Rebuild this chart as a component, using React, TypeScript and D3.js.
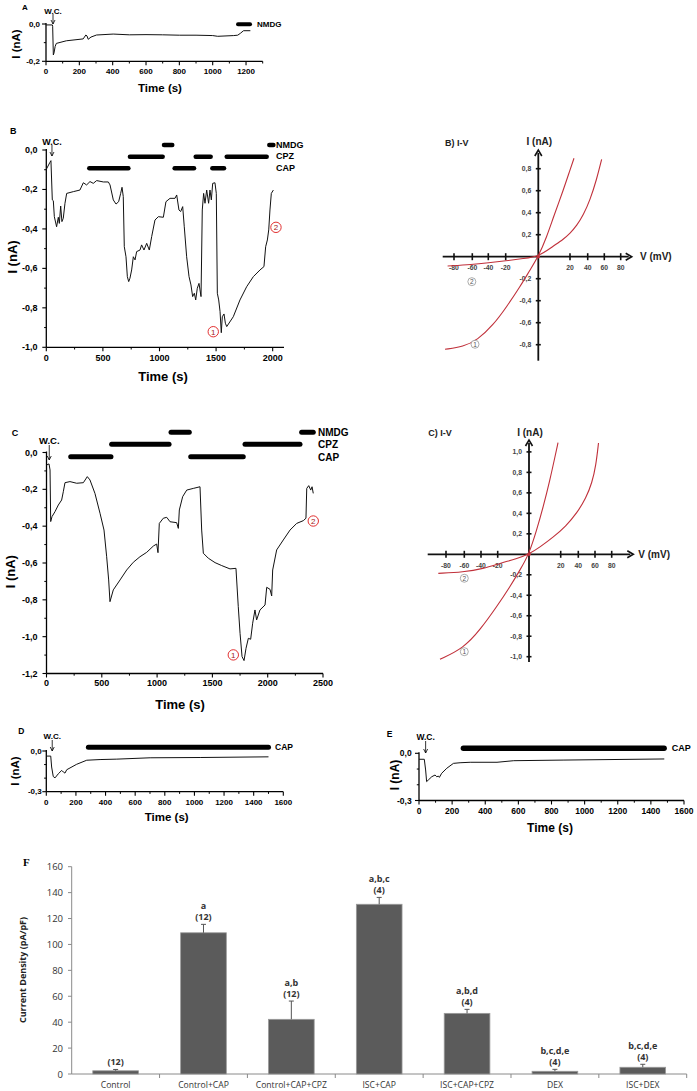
import React from 'react';
import * as d3 from 'd3';

type Pt = [number, number];

// ---------------- DATA ----------------
const traceA: Pt[] = [[0,-0.005],[38,-0.005],[40,-0.012],[44,-0.166],[48,-0.155],[55,-0.12],[62,-0.104],[122,-0.09],[223,-0.08],[239,-0.059],[246,-0.064],[253,-0.082],[270,-0.07],[303,-0.059],[403,-0.054],[500,-0.058],[600,-0.057],[700,-0.058],[800,-0.06],[900,-0.06],[1000,-0.062],[1030,-0.066],[1126,-0.062],[1150,-0.06],[1166,-0.05],[1185,-0.036],[1226,-0.036]];
const barsA = [{ drug: 'NMDG', start: 1152, end: 1224 }];

const traceB: Pt[] = [[0,-0.098],[32,-0.0625],[41,-0.054],[53,-0.253],[62,-0.257],[71,-0.338],[91,-0.389],[106,-0.341],[115,-0.372],[127,-0.284],[138,-0.363],[150,-0.346],[165,-0.27],[180,-0.22],[239,-0.211],[297,-0.203],[327,-0.166],[356,-0.177],[386,-0.16],[415,-0.169],[445,-0.155],[504,-0.162],[548,-0.162],[563,-0.177],[592,-0.253],[616,-0.274],[639,-0.262],[657,-0.22],[669,-0.189],[680,-0.236],[689,-0.49],[704,-0.541],[716,-0.642],[728,-0.667],[739,-0.65],[754,-0.608],[769,-0.541],[784,-0.557],[798,-0.515],[828,-0.507],[842,-0.481],[863,-0.507],[887,-0.473],[910,-0.507],[931,-0.439],[960,-0.355],[990,-0.338],[1034,-0.341],[1057,-0.262],[1093,-0.245],[1137,-0.245],[1152,-0.228],[1172,-0.304],[1187,-0.312],[1205,-0.287],[1219,-0.389],[1240,-0.541],[1261,-0.642],[1278,-0.684],[1293,-0.743],[1308,-0.726],[1320,-0.76],[1334,-0.701],[1349,-0.676],[1358,-0.709],[1367,-0.743],[1378,-0.304],[1390,-0.22],[1402,-0.27],[1417,-0.203],[1434,-0.27],[1446,-0.203],[1458,-0.253],[1470,-0.169],[1490,-0.166],[1502,-0.22],[1511,-0.726],[1523,-0.76],[1535,-0.819],[1546,-0.926],[1555,-0.845],[1570,-0.831],[1582,-0.878],[1594,-0.895],[1652,-0.845],[1711,-0.76],[1770,-0.693],[1829,-0.642],[1888,-0.608],[1923,-0.591],[1938,-0.49],[1953,-0.456],[1965,-0.405],[1976,-0.304],[1988,-0.22],[2006,-0.203]];
const barsB = [
  { drug: 'CAP', start: 380, end: 725 }, { drug: 'CPZ', start: 739, end: 1028 }, { drug: 'NMDG', start: 1040, end: 1113 },
  { drug: 'CAP', start: 1134, end: 1305 }, { drug: 'CPZ', start: 1320, end: 1452 }, { drug: 'CAP', start: 1467, end: 1570 },
  { drug: 'CPZ', start: 1594, end: 1947 }, { drug: 'NMDG', start: 1970, end: 2006 },
];
const marksB = [{ label: '1', t: 1475, i: -0.921 }, { label: '2', t: 2029, i: -0.392 }];

const traceC: Pt[] = [[0,-0.068],[23,-0.062],[32,-0.095],[38,-0.375],[50,-0.348],[77,-0.321],[107,-0.285],[137,-0.258],[152,-0.213],[167,-0.164],[212,-0.158],[273,-0.167],[333,-0.164],[369,-0.131],[393,-0.149],[438,-0.222],[484,-0.33],[520,-0.421],[544,-0.566],[562,-0.692],[574,-0.81],[604,-0.746],[665,-0.692],[725,-0.638],[785,-0.596],[845,-0.566],[906,-0.542],[966,-0.508],[996,-0.497],[1008,-0.544],[1020,-0.385],[1056,-0.357],[1087,-0.352],[1117,-0.376],[1177,-0.381],[1192,-0.412],[1201,-0.312],[1231,-0.24],[1268,-0.204],[1327,-0.195],[1388,-0.186],[1403,-0.421],[1418,-0.547],[1463,-0.574],[1524,-0.598],[1584,-0.614],[1659,-0.632],[1713,-0.629],[1734,-0.837],[1750,-0.982],[1768,-1.108],[1786,-1.13],[1804,-1.063],[1825,-1.009],[1846,-1.014],[1864,-0.927],[1885,-0.855],[1900,-0.909],[1930,-0.855],[1976,-0.828],[1991,-0.732],[2021,-0.743],[2036,-0.779],[2045,-0.638],[2081,-0.529],[2141,-0.475],[2202,-0.421],[2262,-0.385],[2322,-0.37],[2346,-0.357],[2353,-0.195],[2371,-0.18],[2389,-0.204],[2401,-0.186],[2412,-0.222]];
const barsC = [
  { drug: 'CAP', start: 219, end: 583 }, { drug: 'CPZ', start: 589, end: 1108 }, { drug: 'NMDG', start: 1126, end: 1291 },
  { drug: 'CAP', start: 1304, end: 1779 }, { drug: 'CPZ', start: 1795, end: 2292 }, { drug: 'NMDG', start: 2307, end: 2412 },
];
const marksC = [{ label: '1', t: 1689, i: -1.099 }, { label: '2', t: 2412, i: -0.372 }];

const traceD: Pt[] = [[0,-0.0375],[30,-0.0375],[36,-0.118],[47,-0.188],[59,-0.198],[81,-0.168],[104,-0.143],[115,-0.155],[126,-0.163],[138,-0.138],[205,-0.098],[273,-0.068],[363,-0.063],[476,-0.06],[701,-0.05],[1039,-0.048],[1500,-0.043]];
const barsD = [{ drug: 'CAP', start: 284, end: 1500 }];

const traceE: Pt[] = [[0,-0.038],[32,-0.038],[40,-0.106],[46,-0.18],[56,-0.17],[77,-0.149],[97,-0.138],[107,-0.149],[117,-0.145],[123,-0.153],[137,-0.127],[168,-0.095],[208,-0.064],[248,-0.06],[309,-0.057],[471,-0.057],[572,-0.047],[875,-0.043],[1481,-0.036]];
const barsE = [{ drug: 'CAP', start: 268, end: 1480 }];

// I-V curves (V in mV, I in nA)
const ivB1: Pt[] = [[-89.8,-0.842],[-69.8,-0.818],[-53.5,-0.757],[-34.3,-0.621],[-19.4,-0.455],[-11.2,-0.273],[-5.1,-0.121],[0,0],[5.3,0.18],[9.5,0.358],[15.8,0.606],[20,0.788],[24.5,0.895]];
const ivB2: Pt[] = [[-87,-0.085],[-60,-0.072],[-40,-0.056],[-20,-0.038],[-9,-0.016],[0,0],[9.46,0.097],[15.8,0.158],[20,0.212],[27.6,0.282],[35.1,0.379],[42.8,0.515],[50.8,0.703],[56.8,0.885]];
const ivC1: Pt[] = [[-86.6,-1.025],[-61,-0.918],[-41.2,-0.739],[-21.2,-0.512],[-12.1,-0.316],[-5.75,-0.153],[0,0],[4.86,0.237],[9,0.465],[13.2,0.726],[16.4,0.953],[18.3,1.09]];
const ivC2: Pt[] = [[-88.4,-0.186],[-61.1,-0.173],[-37.2,-0.141],[-18.5,-0.088],[-7.9,-0.043],[0,0],[6.94,0.071],[15.1,0.164],[26,0.276],[38.5,0.403],[49.2,0.55],[56.4,0.696],[61.2,0.872],[64.2,1.087]];
const ivXTicks = [-80, -60, -40, -20, 0, 20, 40, 60, 80];
const ivBYTicks = [-0.8, -0.6, -0.4, -0.2, 0.2, 0.4, 0.6, 0.8];
const ivCYTicks = [-1.0, -0.8, -0.6, -0.4, -0.2, 0.2, 0.4, 0.6, 0.8, 1.0];
const ivBMarks = [{ label: '2', v: -60.5, i: -0.227 }, { label: '1', v: -56.6, i: -0.796 }];
const ivCMarks = [{ label: '2', v: -60, i: -0.234 }, { label: '1', v: -60, i: -0.951 }];

// Bar chart F
const categories = ['Control', 'Control+CAP', 'Control+CAP+CPZ', 'ISC+CAP', 'ISC+CAP+CPZ', 'DEX', 'ISC+DEX'];
const means = [2.5, 109, 42.2, 131, 46.8, 2.1, 5.2];
const errors = [1.0, 6.5, 14.1, 5.3, 3.1, 1.5, 2.3];
const sigLetters = ['', 'a', 'a,b', 'a,b,c', 'a,b,d', 'b,c,d,e', 'b,c,d,e'];
const nLabels = ['(12)', '(12)', '(12)', '(4)', '(4)', '(4)', '(4)'];
const fTicks = [0, 20, 40, 60, 80, 100, 120, 140, 160];

// ---------------- HELPERS ----------------
const FONT = "'Liberation Sans', Arial, sans-serif";
const fmt = (v: number) => (Math.abs(v) < 1e-9 ? '0,0' : v.toFixed(1).replace('.', ','));
const rng = (a: number, b: number, s: number) => d3.range(a, b + s / 2, s);

interface Bar { drug: string; start: number; end: number; }
interface TraceCfg {
  letter: string; letterPos: Pt; letterSize: number;
  xRange: Pt; xDomain: Pt; yRange: Pt; yDomain: Pt;
  xTicks: number[]; xMinor: number[]; yTicks: number[]; yMinor: number[];
  data: Pt[]; bars: Bar[]; rowY: Record<string, number>; barW: number;
  drugLabels: { text: string; y: number }[]; drugX: number; drugSize: number;
  wc: { t: number; textY: number; a0: number; a1: number; size: number };
  tickSize: number; xTickY: number; yTickX: number;
  xLabel: Pt; yLabel: Pt; labelSize: number;
  marks?: { label: string; t: number; i: number }[];
  lineW: number;
}

function TracePanel({ c }: { c: TraceCfg }) {
  const x = d3.scaleLinear().domain(c.xDomain).range(c.xRange);
  const y = d3.scaleLinear().domain(c.yDomain).range(c.yRange);
  const line = d3.line<Pt>().x(d => x(d[0])).y(d => y(d[1]));
  const x0 = c.xRange[0];
  const yb = c.yRange[0];
  const yt = c.yRange[1];
  return (
    <g fontFamily={FONT} fontWeight="bold">
      <text x={c.letterPos[0]} y={c.letterPos[1]} fontSize={c.letterSize} dominantBaseline="central">{c.letter}</text>
      <line x1={x0} x2={x0} y1={yt - 1} y2={yb} stroke="#000" strokeWidth={1.3} />
      <line x1={x0} x2={c.xRange[1]} y1={yb} y2={yb} stroke="#000" strokeWidth={1.3} />
      {c.xTicks.map(t => (
        <g key={'xt' + t}>
          <line x1={x(t)} x2={x(t)} y1={yb} y2={yb + 4} stroke="#000" strokeWidth={1.1} />
          <text x={x(t)} y={c.xTickY} fontSize={c.tickSize} textAnchor="middle" dominantBaseline="central">{t}</text>
        </g>
      ))}
      {c.xMinor.map(t => <line key={'xm' + t} x1={x(t)} x2={x(t)} y1={yb} y2={yb + 2.2} stroke="#000" strokeWidth={1} />)}
      {c.yTicks.map(t => (
        <g key={'yt' + t}>
          <line x1={x0 - 4} x2={x0} y1={y(t)} y2={y(t)} stroke="#000" strokeWidth={1.1} />
          <text x={c.yTickX} y={y(t)} fontSize={c.tickSize} textAnchor="end" dominantBaseline="central">{fmt(t)}</text>
        </g>
      ))}
      {c.yMinor.map(t => <line key={'ym' + t} x1={x0 - 2.2} x2={x0} y1={y(t)} y2={y(t)} stroke="#000" strokeWidth={1} />)}
      <text x={c.xLabel[0]} y={c.xLabel[1]} fontSize={c.labelSize} textAnchor="middle" dominantBaseline="central">Time (s)</text>
      <text transform={`translate(${c.yLabel[0]},${c.yLabel[1]}) rotate(-90)`} fontSize={c.labelSize} textAnchor="middle" dominantBaseline="central">I (nA)</text>
      <path d={line(c.data) || ''} fill="none" stroke="#111" strokeWidth={c.lineW} strokeLinejoin="round" />
      {c.bars.map((b, i) => (
        <line key={'b' + i} x1={x(b.start)} x2={x(b.end)} y1={c.rowY[b.drug]} y2={c.rowY[b.drug]} stroke="#000" strokeWidth={c.barW} strokeLinecap="round" />
      ))}
      {c.drugLabels.map(d => (
        <text key={d.text} x={c.drugX} y={d.y} fontSize={c.drugSize} dominantBaseline="central">{d.text}</text>
      ))}
      <text x={x(c.wc.t)} y={c.wc.textY} fontSize={c.wc.size} textAnchor="middle" dominantBaseline="central">W.C.</text>
      <line x1={x(c.wc.t)} x2={x(c.wc.t)} y1={c.wc.a0} y2={c.wc.a1} stroke="#000" strokeWidth={0.8} />
      <path d={`M${x(c.wc.t) - 2},${c.wc.a1 - 4} L${x(c.wc.t)},${c.wc.a1} L${x(c.wc.t) + 2},${c.wc.a1 - 4}`} fill="none" stroke="#000" strokeWidth={0.8} />
      {(c.marks || []).map(m => (
        <g key={'m' + m.label}>
          <circle cx={x(m.t)} cy={y(m.i)} r={5.2} fill="#fff" stroke="#e23030" strokeWidth={1} />
          <text x={x(m.t)} y={y(m.i) + 0.5} fontSize={8} fontWeight="normal" fill="#a01818" textAnchor="middle" dominantBaseline="central">{m.label}</text>
        </g>
      ))}
    </g>
  );
}

interface IVCfg {
  title: string; titlePos: Pt;
  xTickPos: number[]; origin: Pt; pxPerNA: number; yTicks: number[];
  xExtent: Pt; yExtent: Pt; curves: Pt[][];
  marks: { label: string; v: number; i: number }[];
  vLabelX: number; iLabelY: number;
}

function IVPanel({ c }: { c: IVCfg }) {
  const x = d3.scaleLinear().domain(ivXTicks).range(c.xTickPos);
  const y = d3.scaleLinear().domain([0, 1]).range([c.origin[1], c.origin[1] - c.pxPerNA]);
  const line = d3.line<Pt>().x(d => x(d[0])).y(d => y(d[1])).curve(d3.curveBasis);
  const [ox, oy] = c.origin;
  return (
    <g fontFamily={FONT} fontWeight="bold">
      <text x={c.titlePos[0]} y={c.titlePos[1]} fontSize={9} fill="#222" dominantBaseline="central">{c.title}</text>
      <text x={ox + 1} y={c.iLabelY} fontSize={10} fill="#222" textAnchor="middle" dominantBaseline="central">I (nA)</text>
      <text x={c.vLabelX} y={oy} fontSize={10} fill="#222" dominantBaseline="central">V (mV)</text>
      <line x1={c.xExtent[0]} x2={c.xExtent[1] - 3} y1={oy} y2={oy} stroke="#111" strokeWidth={1.8} />
      <line x1={ox} x2={ox} y1={c.yExtent[0] + 3} y2={c.yExtent[1]} stroke="#111" strokeWidth={1.8} />
      <path d={`M${c.xExtent[1] - 6},${oy - 3.5} L${c.xExtent[1]},${oy} L${c.xExtent[1] - 6},${oy + 3.5}`} fill="none" stroke="#111" strokeWidth={1.6} />
      <path d={`M${ox - 3.5},${c.yExtent[0] + 6} L${ox},${c.yExtent[0]} L${ox + 3.5},${c.yExtent[0] + 6}`} fill="none" stroke="#111" strokeWidth={1.6} />
      {ivXTicks.filter(v => v !== 0).map(v => (
        <g key={'x' + v}>
          <line x1={x(v)} x2={x(v)} y1={oy - 3.5} y2={oy + 3.5} stroke="#111" strokeWidth={1.6} />
          <text x={x(v)} y={oy + 11} fontSize={6.8} fill="#444" textAnchor="middle" dominantBaseline="central">{v}</text>
        </g>
      ))}
      {c.yTicks.map(v => (
        <g key={'y' + v}>
          <line x1={ox - 2.5} x2={ox + 2.5} y1={y(v)} y2={y(v)} stroke="#111" strokeWidth={1.6} />
          <text x={ox - 7} y={y(v)} fontSize={6.8} fill="#444" textAnchor="end" dominantBaseline="central">{fmt(v)}</text>
        </g>
      ))}
      {c.curves.map((cv, i) => (
        <path key={'c' + i} d={line(cv) || ''} fill="none" stroke="#c0303a" strokeWidth={1.1} />
      ))}
      <circle cx={ox} cy={oy} r={1.8} fill="#c0303a" />
      {c.marks.map(m => (
        <g key={'m' + m.label}>
          <circle cx={x(m.v)} cy={y(m.i)} r={4} fill="#fff" stroke="#888" strokeWidth={0.7} />
          <text x={x(m.v)} y={y(m.i) + 0.3} fontSize={6.5} fontWeight="normal" fill="#555" textAnchor="middle" dominantBaseline="central">{m.label}</text>
        </g>
      ))}
    </g>
  );
}

function BarPanel() {
  const x = d3.scaleBand<string>().domain(categories).range([71.7, 686.7]).paddingInner(0.48).paddingOuter(0.24);
  const y = d3.scaleLinear().domain([0, 160]).range([1074, 866.7]);
  const step = x.step();
  const FF = "'Open Sans', 'Liberation Sans', sans-serif";
  return (
    <g fontFamily={FF}>
      <text x={23} y={862} fontSize={11} fontWeight="bold" fontFamily="'Liberation Serif', serif" dominantBaseline="central">F</text>
      <text transform={`translate(22.5,970) rotate(-90)`} fontSize={9} fontWeight="bold" fill="#222" textAnchor="middle" dominantBaseline="central">Current Density (pA/pF)</text>
      <line x1={71.7} x2={71.7} y1={866.7} y2={1074} stroke="#8a8a8a" strokeWidth={1} />
      <line x1={71.7} x2={686.7} y1={1074} y2={1074} stroke="#8a8a8a" strokeWidth={1} />
      {fTicks.map(t => (
        <g key={t}>
          <line x1={68} x2={71.7} y1={y(t)} y2={y(t)} stroke="#8a8a8a" />
          <text x={63} y={y(t)} fontSize={9.5} fill="#333" textAnchor="end" dominantBaseline="central">{t}</text>
        </g>
      ))}
      {categories.map((c, i) => {
        const bx = x(c) as number;
        const cx = bx + x.bandwidth() / 2;
        const top = y(means[i] + errors[i]);
        return (
          <g key={c}>
            <line x1={71.7 + (i + 1) * step} x2={71.7 + (i + 1) * step} y1={1074} y2={1078} stroke="#8a8a8a" />
            <rect x={bx} y={y(means[i])} width={x.bandwidth()} height={1074 - y(means[i])} fill="#5b5b5b" stroke="#9a9a9a" strokeWidth={0.8} />
            <line x1={cx} x2={cx} y1={y(means[i])} y2={top} stroke="#555" strokeWidth={1} />
            <line x1={cx - 2.5} x2={cx + 2.5} y1={top} y2={top} stroke="#555" strokeWidth={1} />
            <text x={cx} y={top - 7.5} fontSize={9} fontWeight="bold" fill="#333" textAnchor="middle" dominantBaseline="central">{nLabels[i]}</text>
            {sigLetters[i] && (
              <text x={cx} y={top - 19} fontSize={9} fontWeight="bold" fill="#333" textAnchor="middle" dominantBaseline="central">{sigLetters[i]}</text>
            )}
            <text x={71.7 + (i + 0.5) * step} y={1084.5} fontSize={8.6} fill="#333" textAnchor="middle" dominantBaseline="central">{c}</text>
          </g>
        );
      })}
    </g>
  );
}

// ---------------- CONFIGS ----------------
const cfgA: TraceCfg = {
  letter: 'A', letterPos: [22, 7], letterSize: 8,
  xRange: [46, 262.7], xDomain: [0, 1300], yRange: [61.3, 24], yDomain: [-0.2, 0],
  xTicks: rng(0, 1200, 200), xMinor: rng(100, 1300, 200), yTicks: [0, -0.2], yMinor: [-0.1],
  data: traceA, bars: barsA, rowY: { NMDG: 24.3 }, barW: 4,
  drugLabels: [{ text: 'NMDG', y: 24.3 }], drugX: 257, drugSize: 8,
  wc: { t: 42, textY: 11, a0: 14, a1: 24, size: 8 },
  tickSize: 8, xTickY: 71, yTickX: 40, xLabel: [160, 87.7], yLabel: [16, 44], labelSize: 11.5, lineW: 1,
};
const cfgB: TraceCfg = {
  letter: 'B', letterPos: [10, 131], letterSize: 9,
  xRange: [46.3, 284], xDomain: [0, 2100], yRange: [347.3, 150], yDomain: [-1, 0],
  xTicks: rng(0, 2000, 500), xMinor: rng(250, 2000, 500), yTicks: rng(-1, 0, 0.2).map(v => +v.toFixed(1)), yMinor: [-0.1, -0.3, -0.5, -0.7, -0.9],
  data: traceB, bars: barsB, rowY: { NMDG: 145, CPZ: 156.7, CAP: 168.3 }, barW: 4.5,
  drugLabels: [{ text: 'NMDG', y: 145 }, { text: 'CPZ', y: 156 }, { text: 'CAP', y: 167.5 }], drugX: 276, drugSize: 9,
  wc: { t: 50, textY: 141.5, a0: 145, a1: 156, size: 9 },
  tickSize: 9, xTickY: 358.3, yTickX: 37.5, xLabel: [163, 376.7], yLabel: [12, 257], labelSize: 13, lineW: 1,
  marks: marksB,
};
const cfgC: TraceCfg = {
  letter: 'C', letterPos: [11.7, 432.7], letterSize: 9,
  xRange: [46.5, 323], xDomain: [0, 2500], yRange: [673.5, 452.5], yDomain: [-1.2, 0],
  xTicks: rng(0, 2500, 500), xMinor: rng(250, 2500, 500), yTicks: rng(-1.2, 0, 0.2).map(v => +v.toFixed(1)), yMinor: [-0.1, -0.3, -0.5, -0.7, -0.9, -1.1],
  data: traceC, bars: barsC, rowY: { NMDG: 432.3, CPZ: 444.3, CAP: 456.7 }, barW: 5,
  drugLabels: [{ text: 'NMDG', y: 432.3 }, { text: 'CPZ', y: 444.3 }, { text: 'CAP', y: 457 }], drugX: 318, drugSize: 10,
  wc: { t: 25, textY: 440.7, a0: 445, a1: 460, size: 9.5 },
  tickSize: 9, xTickY: 683.3, yTickX: 37.5, xLabel: [180, 704.3], yLabel: [10, 571.7], labelSize: 13, lineW: 1,
  marks: marksC,
};
const cfgD: TraceCfg = {
  letter: 'D', letterPos: [18.3, 731], letterSize: 8.5,
  xRange: [46.3, 283.3], xDomain: [0, 1600], yRange: [791.7, 751], yDomain: [-0.3, 0],
  xTicks: rng(0, 1600, 200), xMinor: rng(100, 1500, 200), yTicks: [0, -0.3], yMinor: [-0.1, -0.2],
  data: traceD, bars: barsD, rowY: { CAP: 747.3 }, barW: 5,
  drugLabels: [{ text: 'CAP', y: 747.3 }], drugX: 275, drugSize: 8.5,
  wc: { t: 40, textY: 736.7, a0: 740, a1: 751, size: 8 },
  tickSize: 8, xTickY: 802, yTickX: 41.7, xLabel: [166.7, 817.3], yLabel: [15, 771], labelSize: 11.5, lineW: 1,
};
const cfgE: TraceCfg = {
  letter: 'E', letterPos: [386.7, 734.3], letterSize: 8.5,
  xRange: [419, 684], xDomain: [0, 1600], yRange: [800.5, 753.3], yDomain: [-0.3, 0],
  xTicks: rng(0, 1600, 200), xMinor: rng(100, 1500, 200), yTicks: [0, -0.3], yMinor: [-0.1, -0.2],
  data: traceE, bars: barsE, rowY: { CAP: 748.3 }, barW: 5.5,
  drugLabels: [{ text: 'CAP', y: 748.3 }], drugX: 671.7, drugSize: 9,
  wc: { t: 40, textY: 737.3, a0: 741, a1: 753, size: 8.5 },
  tickSize: 8.5, xTickY: 810.5, yTickX: 411.7, xLabel: [550, 828.3], yLabel: [395, 775], labelSize: 12, lineW: 1,
};
const cfgIVB: IVCfg = {
  title: 'B) I-V', titlePos: [445, 142.7],
  xTickPos: [454, 472.3, 488.3, 505.7, 538.3, 570, 587.7, 604.3, 620.7], origin: [538.3, 256.7], pxPerNA: 110,
  yTicks: ivBYTicks, xExtent: [442.7, 631.7], yExtent: [150, 360.7], curves: [ivB1, ivB2], marks: ivBMarks,
  vLabelX: 640, iLabelY: 141.7,
};
const cfgIVC: IVCfg = {
  title: 'C) I-V', titlePos: [428.3, 433.3],
  xTickPos: [446, 464.3, 481, 497.7, 529, 560.7, 578.3, 595, 611.7], origin: [529, 554.3], pxPerNA: 102.4,
  yTicks: ivCYTicks, xExtent: [427.7, 633.3], yExtent: [440, 662], curves: [ivC1, ivC2], marks: ivCMarks,
  vLabelX: 638.3, iLabelY: 432.7,
};

export default function App() {
  return (
    <svg width={697} height={1091} style={{ position: 'absolute', left: 0, top: 0, background: '#fff' }}>
      <rect width={697} height={1091} fill="#fff" />
      <TracePanel c={cfgA} />
      <TracePanel c={cfgB} />
      <IVPanel c={cfgIVB} />
      <TracePanel c={cfgC} />
      <IVPanel c={cfgIVC} />
      <TracePanel c={cfgD} />
      <TracePanel c={cfgE} />
      <BarPanel />
    </svg>
  );
}
